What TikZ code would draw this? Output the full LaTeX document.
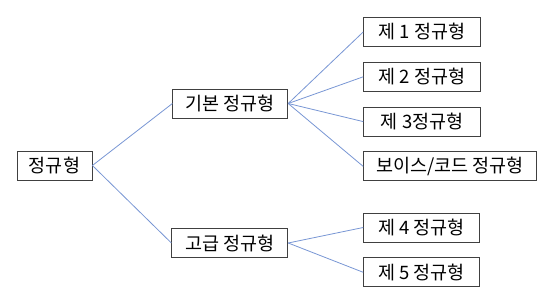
\documentclass[tikz,border=0pt]{standalone}
\usepackage{fontspec}
\setmainfont{Noto Sans CJK KR}
\usetikzlibrary{positioning}

\begin{document}
\begin{tikzpicture}[
  x=1pt, y=-1pt,
  every node/.style={font=\fontsize{18.5}{20}\selectfont, align=center},
  box/.style={draw=black!75, line width=0.8pt, minimum height=29pt, inner sep=1pt},
  link/.style={draw={rgb,255:red,120;green,150;blue,212}, line width=0.8pt}
]
\useasboundingbox (0,0) rectangle (555,307);
\node[box, minimum width=75pt] (nf) at (54.5,165.5) {정규형};
\node[box, minimum width=115pt, above right=62pt and 80pt of nf.east, anchor=west] (bas) {기본 정규형};
\node[box, minimum width=116pt, below right=77.5pt and 79pt of nf.east, anchor=west] (adv) {고급 정규형};
\node[box, minimum width=117pt, above right=71.5pt and 75pt of bas.east, anchor=west] (n1) {제 1 정규형};
\node[box, minimum width=117pt, below=15pt of n1.south west, anchor=north west] (n2) {제 2 정규형};
\node[box, minimum width=117pt, below=15pt of n2.south west, anchor=north west] (n3) {제 3정규형};
\node[box, minimum width=173pt, below=15pt of n3.south west, anchor=north west] (bc) {보이스/코드 정규형};
\node[box, minimum width=116pt, above right=15.5pt and 75pt of adv.east, anchor=west] (n4) {제 4 정규형};
\node[box, minimum width=116pt, below=15pt of n4.south west, anchor=north west] (n5) {제 5 정규형};
\draw[link] (nf.east) -- (bas.west);
\draw[link] (nf.east) -- (adv.west);
\draw[link] (bas.east) -- (n1.west);
\draw[link] (bas.east) -- (n2.west);
\draw[link] (bas.east) -- (n3.west);
\draw[link] (bas.east) -- (bc.west);
\draw[link] (adv.east) -- (n4.west);
\draw[link] (adv.east) -- (n5.west);
\end{tikzpicture}
\end{document}
